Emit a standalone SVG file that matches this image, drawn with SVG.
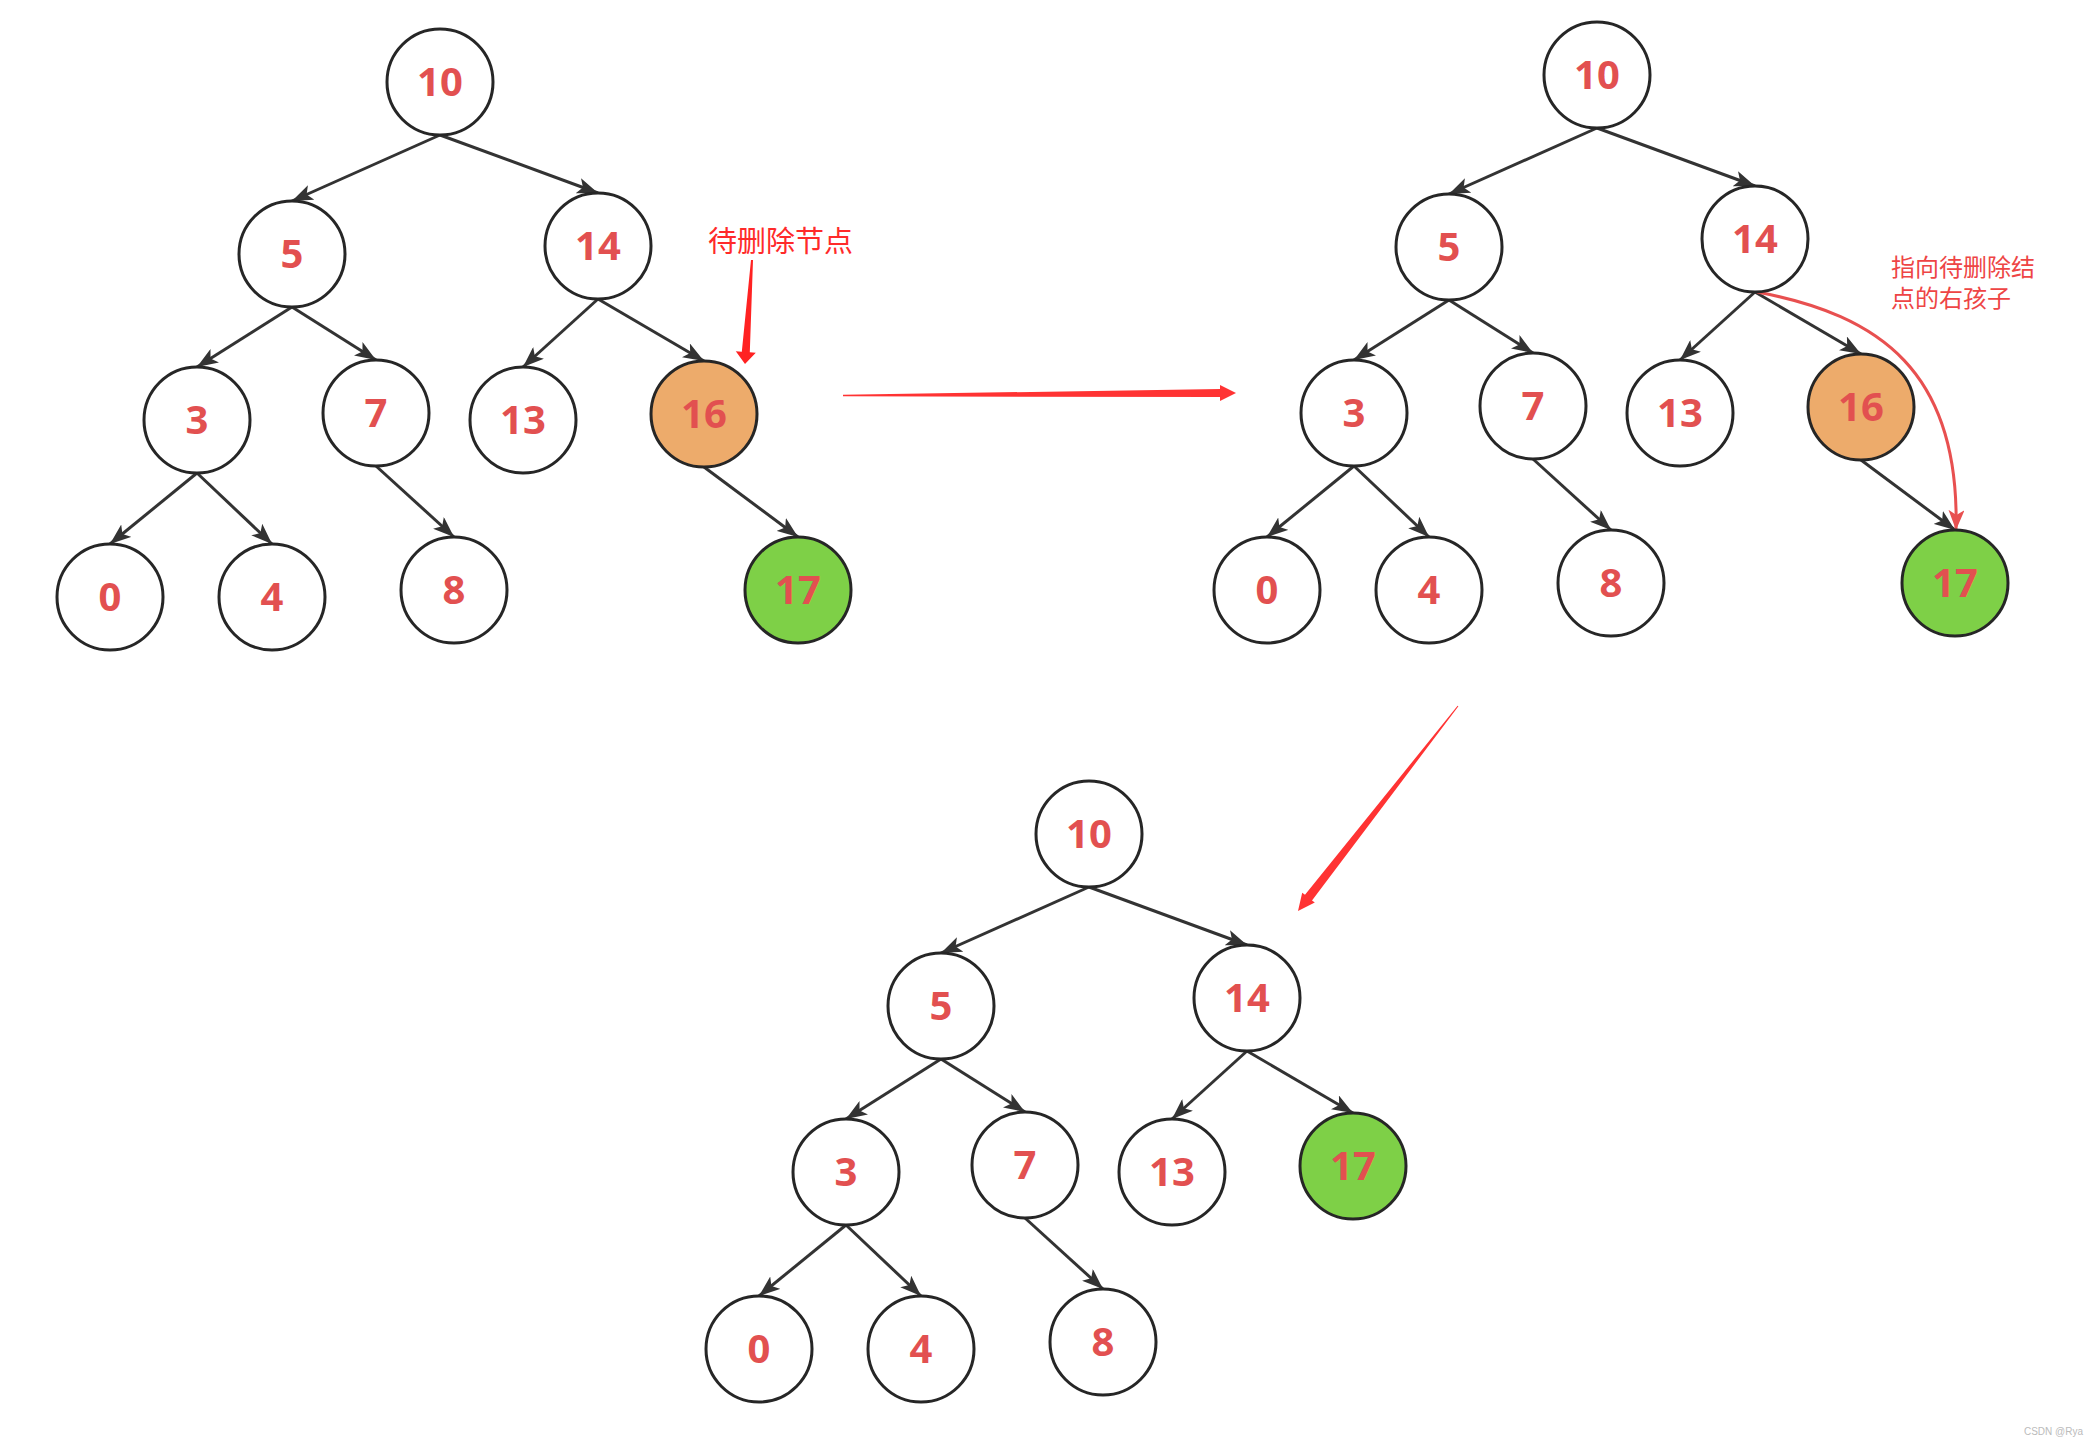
<svg xmlns="http://www.w3.org/2000/svg" width="2098" height="1445" viewBox="0 0 2098 1445">
<style>
.n circle{fill:#ffffff;stroke:#262626;stroke-width:3}
.n.o circle{fill:#EDAB6B}
.n.g circle{fill:#7ED047}
.n text{font-family:"Noto Sans","Liberation Sans",sans-serif;font-weight:bold;font-size:40px;fill:#E25050;text-anchor:middle}
.e path{fill:none;stroke:#333333;stroke-width:3;marker-end:url(#ah)}
.lbl{font-family:"Noto Sans CJK SC","Noto Sans",sans-serif}
</style>
<defs>
<marker id="ah" markerUnits="userSpaceOnUse" markerWidth="21" markerHeight="16" viewBox="0 0 21 16" refX="21" refY="8" orient="auto">
<path d="M0,0 L21,8 L0,16 L5,8 z" fill="#333333"/>
</marker>
<marker id="ahr" markerUnits="userSpaceOnUse" markerWidth="20" markerHeight="16" viewBox="0 0 20 16" refX="20" refY="8" orient="auto">
<path d="M0,0 L20,8 L0,16 L5,8 z" fill="#E85050"/>
</marker>
</defs>
<rect width="2098" height="1445" fill="#ffffff"/>

<g id="connectors">
<g class="e" id="edges-tree1">
<path d="M440,135 L292,201"/>
<path d="M440,135 L598,193"/>
<path d="M292,307 L197,367"/>
<path d="M292,307 L376,360"/>
<path d="M598,299 L523,367"/>
<path d="M598,299 L704,361"/>
<path d="M197,473 L110,544"/>
<path d="M197,473 L272,544"/>
<path d="M376,466 L454,537"/>
<path d="M704,467 L798,537"/>
</g>
<g class="e" id="edges-tree2">
<path d="M1597,128 L1449,194"/>
<path d="M1597,128 L1755,186"/>
<path d="M1449,300 L1354,360"/>
<path d="M1449,300 L1533,353"/>
<path d="M1755,292 L1680,360"/>
<path d="M1755,292 L1861,354"/>
<path d="M1354,466 L1267,537"/>
<path d="M1354,466 L1429,537"/>
<path d="M1533,459 L1611,530"/>
<path d="M1861,460 L1955,530"/>
</g>
<g class="e" id="edges-tree3">
<path d="M1089,887 L941,953"/>
<path d="M1089,887 L1247,945"/>
<path d="M941,1059 L846,1119"/>
<path d="M941,1059 L1025,1112"/>
<path d="M1247,1051 L1172,1119"/>
<path d="M1247,1051 L1353,1113"/>
<path d="M846,1225 L759,1296"/>
<path d="M846,1225 L921,1296"/>
<path d="M1025,1218 L1103,1289"/>
</g>
<path id="red-curve" d="M1757,292 C1880,315 1960,372 1956,530" fill="none" stroke="#E85050" stroke-width="3" marker-end="url(#ahr)"/>
<polygon id="arrow-label" points="753,260 749.8,352.3 755.8,352.7 745,364 735.8,351.3 741.8,351.7 751,259.9" fill="#FF2222"/>
<polygon id="arrow-step1" points="843,394.7 1220,389.1 1220,385.1 1236,393 1220,401.1 1220,397.1 843,396.3" fill="#FF3333"/>
<polygon id="arrow-step2" points="1458.4,706.3 1312,900.4 1314.8,902.5 1298,911 1302.2,892.7 1305,894.8 1457.6,705.7" fill="#FF3333"/>
</g>

<g id="tree1">
<g class="n" id="t1-n10"><circle cx="440" cy="82" r="53"/><text x="440" y="96">10</text></g>
<g class="n" id="t1-n5"><circle cx="292" cy="254" r="53"/><text x="292" y="268">5</text></g>
<g class="n" id="t1-n14"><circle cx="598" cy="246" r="53"/><text x="598" y="260">14</text></g>
<g class="n" id="t1-n3"><circle cx="197" cy="420" r="53"/><text x="197" y="434">3</text></g>
<g class="n" id="t1-n7"><circle cx="376" cy="413" r="53"/><text x="376" y="427">7</text></g>
<g class="n" id="t1-n13"><circle cx="523" cy="420" r="53"/><text x="523" y="434">13</text></g>
<g class="n o" id="t1-n16"><circle cx="704" cy="414" r="53"/><text x="704" y="428">16</text></g>
<g class="n" id="t1-n0"><circle cx="110" cy="597" r="53"/><text x="110" y="611">0</text></g>
<g class="n" id="t1-n4"><circle cx="272" cy="597" r="53"/><text x="272" y="611">4</text></g>
<g class="n" id="t1-n8"><circle cx="454" cy="590" r="53"/><text x="454" y="604">8</text></g>
<g class="n g" id="t1-n17"><circle cx="798" cy="590" r="53"/><text x="798" y="604">17</text></g>
</g>

<g id="tree2">
<g class="n" id="t2-n10"><circle cx="1597" cy="75" r="53"/><text x="1597" y="89">10</text></g>
<g class="n" id="t2-n5"><circle cx="1449" cy="247" r="53"/><text x="1449" y="261">5</text></g>
<g class="n" id="t2-n14"><circle cx="1755" cy="239" r="53"/><text x="1755" y="253">14</text></g>
<g class="n" id="t2-n3"><circle cx="1354" cy="413" r="53"/><text x="1354" y="427">3</text></g>
<g class="n" id="t2-n7"><circle cx="1533" cy="406" r="53"/><text x="1533" y="420">7</text></g>
<g class="n" id="t2-n13"><circle cx="1680" cy="413" r="53"/><text x="1680" y="427">13</text></g>
<g class="n o" id="t2-n16"><circle cx="1861" cy="407" r="53"/><text x="1861" y="421">16</text></g>
<g class="n" id="t2-n0"><circle cx="1267" cy="590" r="53"/><text x="1267" y="604">0</text></g>
<g class="n" id="t2-n4"><circle cx="1429" cy="590" r="53"/><text x="1429" y="604">4</text></g>
<g class="n" id="t2-n8"><circle cx="1611" cy="583" r="53"/><text x="1611" y="597">8</text></g>
<g class="n g" id="t2-n17"><circle cx="1955" cy="583" r="53"/><text x="1955" y="597">17</text></g>
</g>

<g id="tree3">
<g class="n" id="t3-n10"><circle cx="1089" cy="834" r="53"/><text x="1089" y="848">10</text></g>
<g class="n" id="t3-n5"><circle cx="941" cy="1006" r="53"/><text x="941" y="1020">5</text></g>
<g class="n" id="t3-n14"><circle cx="1247" cy="998" r="53"/><text x="1247" y="1012">14</text></g>
<g class="n" id="t3-n3"><circle cx="846" cy="1172" r="53"/><text x="846" y="1186">3</text></g>
<g class="n" id="t3-n7"><circle cx="1025" cy="1165" r="53"/><text x="1025" y="1179">7</text></g>
<g class="n" id="t3-n13"><circle cx="1172" cy="1172" r="53"/><text x="1172" y="1186">13</text></g>
<g class="n g" id="t3-n17"><circle cx="1353" cy="1166" r="53"/><text x="1353" y="1180">17</text></g>
<g class="n" id="t3-n0"><circle cx="759" cy="1349" r="53"/><text x="759" y="1363">0</text></g>
<g class="n" id="t3-n4"><circle cx="921" cy="1349" r="53"/><text x="921" y="1363">4</text></g>
<g class="n" id="t3-n8"><circle cx="1103" cy="1342" r="53"/><text x="1103" y="1356">8</text></g>
</g>

<g id="labels">
<text class="lbl" x="708" y="252" font-size="29" fill="#FF2A2A">待删除节点</text>
<text class="lbl" x="1891" y="276" font-size="24" fill="#EE4545">指向待删除结</text>
<text class="lbl" x="1891" y="307" font-size="24" fill="#EE4545">点的右孩子</text>
<text x="2083" y="1435" font-family="Liberation Sans,sans-serif" font-size="10" fill="#BBBBBB" text-anchor="end">CSDN @Rya</text>
</g>
</svg>
